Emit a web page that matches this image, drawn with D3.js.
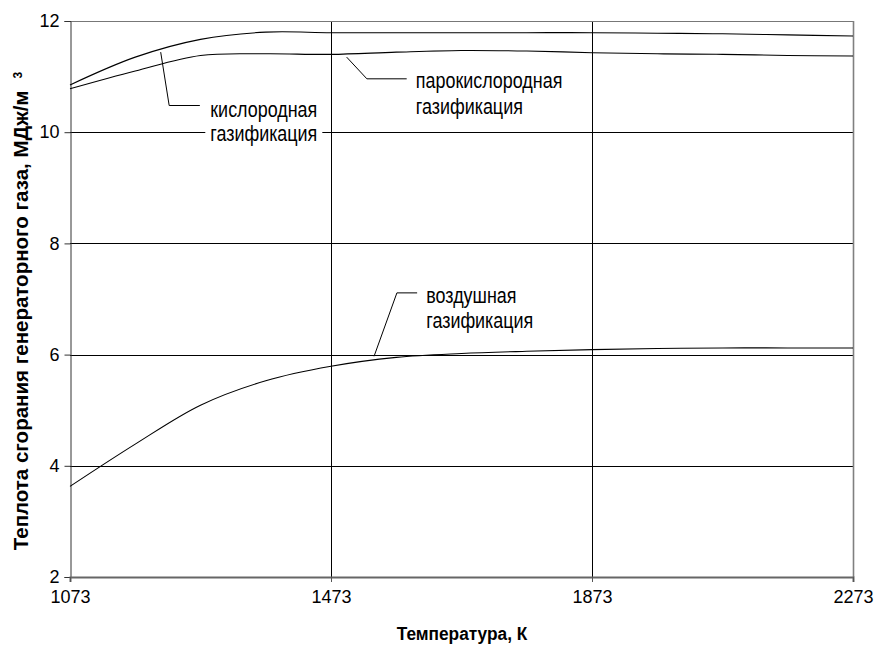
<!DOCTYPE html>
<html>
<head>
<meta charset="utf-8">
<script src="https://cdn.jsdelivr.net/npm/d3@7"></script>
<style>
  html, body { margin: 0; padding: 0; background: #fff; }
  svg { display: block; }
</style>
</head>
<body>
<svg id="chart" width="876" height="645"></svg>
<script>
// Temperature, K
const temps = [1073, 1173, 1273, 1373, 1473, 1573, 1673, 1773, 1873, 1973, 2073, 2173, 2273];
// Heat of combustion of producer gas, MJ/m3
const oxygenGas      = [10.85, 11.35, 11.67, 11.80, 11.79, 11.79, 11.79, 11.79, 11.79, 11.78, 11.77, 11.75, 11.73];
const steamOxygenGas = [10.78, 11.10, 11.38, 11.41, 11.40, 11.44, 11.47, 11.46, 11.43, 11.41, 11.40, 11.38, 11.37];
const airGas         = [3.63, 4.39, 5.09, 5.53, 5.79, 5.95, 6.02, 6.06, 6.09, 6.11, 6.12, 6.12, 6.12];

const xTicks = [1073, 1473, 1873, 2273];
const yTicks = [2, 4, 6, 8, 10, 12];

const seriesLabels = [
  ["кислородная", "газификация"],
  ["парокислородная", "газификация"],
  ["воздушная", "газификация"]
];

const svg = d3.select("#chart");
const plotLeft = 70, plotRight = 853, plotTop = 21, plotBottom = 577;
const FONT = "'Liberation Sans', Arial, sans-serif";

const x = d3.scaleLinear().domain([1073, 2273]).range([plotLeft, plotRight]);
const y = d3.scaleLinear().domain([2, 12]).range([plotBottom, plotTop]);

// horizontal gridlines
svg.append("g").selectAll("line").data(yTicks.filter(d => d !== 2 && d !== 12)).join("line")
  .attr("x1", plotLeft).attr("x2", plotRight)
  .attr("y1", d => Math.round(y(d)) + 0.5).attr("y2", d => Math.round(y(d)) + 0.5)
  .attr("stroke", "#000").attr("stroke-width", 1);

// vertical gridlines
svg.append("g").selectAll("line").data(xTicks.filter(d => d !== 1073 && d !== 2273)).join("line")
  .attr("x1", d => Math.round(x(d)) + 0.5).attr("x2", d => Math.round(x(d)) + 0.5)
  .attr("y1", plotTop).attr("y2", plotBottom)
  .attr("stroke", "#000").attr("stroke-width", 1);

// plot frame: top and right
svg.append("line").attr("x1", plotLeft).attr("x2", plotRight).attr("y1", plotTop + 0.5).attr("y2", plotTop + 0.5)
  .attr("stroke", "#777").attr("stroke-width", 1);
svg.append("line").attr("x1", plotRight + 0.5).attr("x2", plotRight + 0.5).attr("y1", plotTop).attr("y2", plotBottom)
  .attr("stroke", "#808080").attr("stroke-width", 1.6);

// y axis
const yAxis = svg.append("g")
  .attr("transform", `translate(${plotLeft + 0.5},0)`)
  .call(d3.axisLeft(y).tickValues(yTicks).tickSize(6).tickPadding(5).tickFormat(d3.format("d")));
yAxis.select(".domain").attr("stroke", "#333");
yAxis.selectAll(".tick line").attr("stroke", "#333");
yAxis.selectAll(".tick text")
  .attr("font-family", FONT)
  .attr("font-size", 18).attr("fill", "#000");

// x axis
const xAxis = svg.append("g")
  .attr("transform", `translate(0,${plotBottom})`)
  .call(d3.axisBottom(x).tickValues(xTicks).tickSize(5).tickPadding(8).tickFormat(d3.format("d")));
xAxis.select(".domain").attr("stroke", "#666").attr("stroke-width", 2);
xAxis.selectAll(".tick line").attr("stroke", "#555");
xAxis.selectAll(".tick text")
  .attr("font-family", FONT)
  .attr("font-size", 18).attr("fill", "#000");

// curves
const line = d3.line()
  .x((d, i) => x(temps[i]))
  .y(d => y(d))
  .curve(d3.curveCatmullRom.alpha(0.5));

[oxygenGas, steamOxygenGas, airGas].forEach(vals => {
  svg.append("path").datum(vals)
    .attr("d", line)
    .attr("fill", "none")
    .attr("stroke", "#000")
    .attr("stroke-width", 1.1);
});

// leader lines and series labels (data coordinates)
const annotations = [
  { pts: [[1212, 11.44], [1225, 10.48], [1272, 10.48]], tx: 1288, ty: [10.42, 9.98] },
  { pts: [[1497, 11.35], [1528, 10.96], [1589, 10.96]], tx: 1603, ty: [10.94, 10.47] },
  { pts: [[1539, 5.97], [1574, 7.11], [1605, 7.11]], tx: 1619, ty: [7.07, 6.62] }
];

annotations.forEach((a, i) => {
  svg.append("path")
    .attr("d", d3.line().x(p => x(p[0])).y(p => y(p[1]))(a.pts))
    .attr("fill", "none").attr("stroke", "#000").attr("stroke-width", 1);

  const g = svg.append("g");
  const bg = g.append("rect").attr("fill", "#fff");
  const texts = seriesLabels[i].map((txt, j) =>
    g.append("text")
      .attr("transform", `translate(${x(a.tx)},${y(a.ty[j])}) scale(0.815,1)`)
      .attr("dy", "0.36em")
      .attr("font-family", FONT)
      .attr("font-size", 22)
      .attr("fill", "#000")
      .text(txt));
  // white box behind the label block
  const w = d3.max(texts, t => t.node().getComputedTextLength()) * 0.815;
  bg.attr("x", x(a.tx) - 5).attr("width", w + 10)
    .attr("y", y(a.ty[0]) - 12).attr("height", y(a.ty[1]) - y(a.ty[0]) + 24);
});

// axis titles
svg.append("text")
  .attr("transform", `translate(462,634) scale(0.96,1)`)
  .attr("text-anchor", "middle")
  .attr("dy", "0.36em")
  .attr("font-family", FONT)
  .attr("font-weight", "bold")
  .attr("font-size", 18)
  .text("Температура, К");

const yTitle = svg.append("text")
  .attr("transform", "translate(21,311) rotate(-90)")
  .attr("text-anchor", "middle")
  .attr("dy", "0.36em")
  .attr("font-family", FONT)
  .attr("font-weight", "bold")
  .attr("font-size", 20.5);
yTitle.append("tspan").text("Теплота сгорания генераторного газа, МДж/м");
yTitle.append("tspan").attr("dx", 12).attr("dy", "-0.5em").attr("font-size", 12).text("3");
</script>
</body>
</html>
